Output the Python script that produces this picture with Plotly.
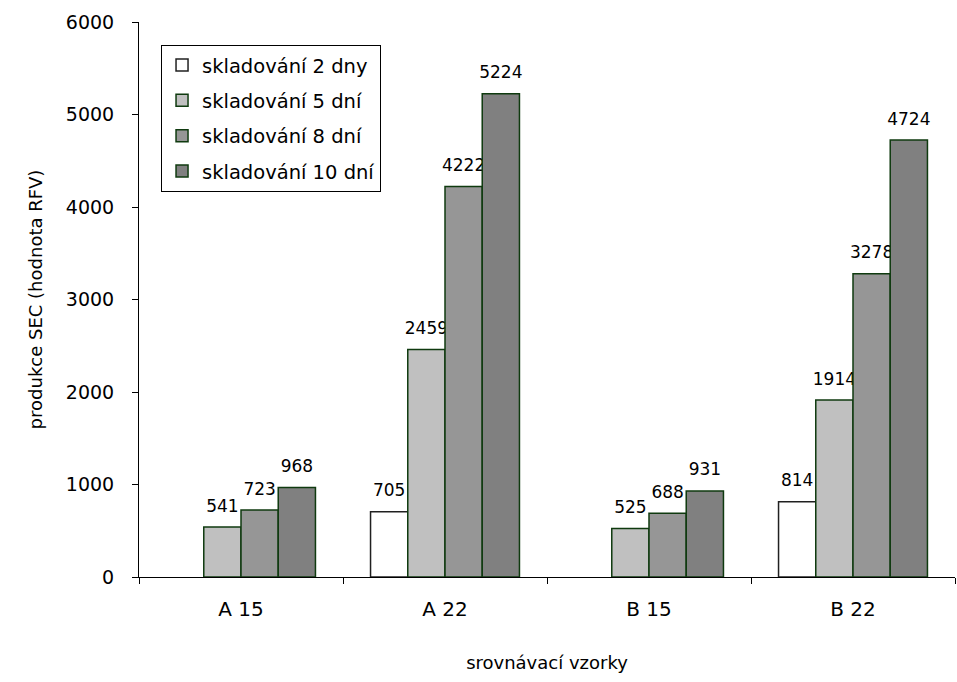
import plotly.graph_objects as go

categories = ["A 15", "A 22", "B 15", "B 22"]
series_names = ["skladování 2 dny", "skladování 5 dní", "skladování 8 dní", "skladování 10 dní"]
values_2 = [None, 705, None, 814]
values_5 = [541, 2459, 525, 1914]
values_8 = [723, 4222, 688, 3278]
values_10 = [968, 5224, 931, 4724]
y_ticks = [0, 1000, 2000, 3000, 4000, 5000, 6000]

fills = ["#ffffff", "#c0c0c0", "#969696", "#808080"]
edges = ["#202020", "#0f3a0f", "#0f3a0f", "#0f3a0f"]
font_family = "DejaVu Sans, Arial, sans-serif"

# value label lifted above the bar by a short spacer line
def label(v):
    if v is None:
        return ""
    return f"<span style='font-size:17px'>{v}</span><br> "

fig = go.Figure()
for i, (name, vals, fill, edge) in enumerate(zip(series_names, [values_2, values_5, values_8, values_10], fills, edges)):
    fig.add_trace(go.Bar(
        x=categories,
        y=vals,
        name=name,
        legendgroup=f"g{i}",
        marker=dict(color=fill, line=dict(color=edge, width=1.5)),
        text=[label(v) for v in vals],
        textposition="outside",
        constraintext="none",
        textfont=dict(size=8, color="#000000", family=font_family),
        cliponaxis=False,
    ))

fig.update_layout(
    width=957,
    height=682,
    margin=dict(l=139, r=2, t=22, b=105),
    paper_bgcolor="#ffffff",
    plot_bgcolor="#ffffff",
    barmode="group",
    bargap=0.27,
    bargroupgap=0,
    uniformtext=dict(mode=False),
    font=dict(family=font_family, size=18, color="#000000"),
    showlegend=True,
    legend=dict(
        x=0.027, y=0.959, xanchor="left", yanchor="top",
        bgcolor="#ffffff", bordercolor="#000000", borderwidth=1,
        font=dict(size=19.5, family=font_family),
        tracegroupgap=7,
    ),
    xaxis=dict(
        showline=True, linecolor="#000000", linewidth=1,
        ticks="outside", tickson="boundaries", ticklen=6, tickcolor="#000000",
        ticklabelstandoff=14,
        showgrid=False,
        title=dict(text="srovnávací vzorky", font=dict(size=18), standoff=36),
        tickfont=dict(size=20),
    ),
    yaxis=dict(
        range=[0, 6000],
        tickvals=y_ticks,
        showline=True, linecolor="#000000", linewidth=1,
        ticks="outside", ticklen=6, tickcolor="#000000",
        ticklabelstandoff=14,
        showgrid=False, zeroline=False,
        title=dict(text="produkce SEC (hodnota RFV)", font=dict(size=18), standoff=18),
        tickfont=dict(size=19),
    ),
)

fig.write_html("out.html")
